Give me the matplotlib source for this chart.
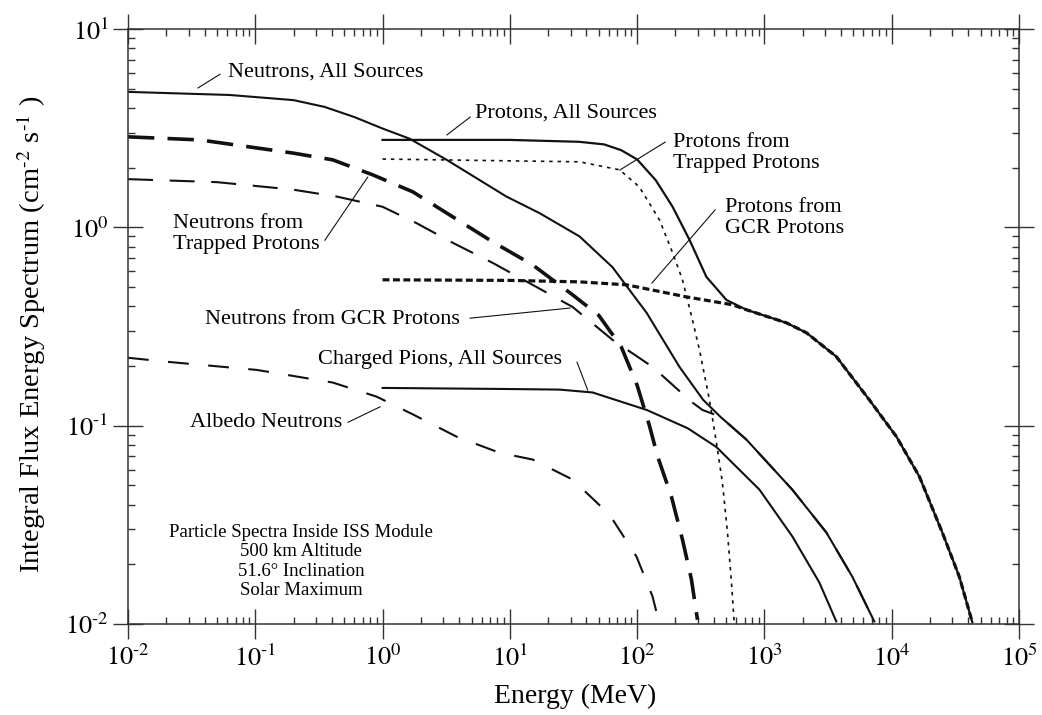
import matplotlib
matplotlib.use('Agg')
from matplotlib import pyplot as plt

plt.rcParams['font.family'] = ['Liberation Serif', 'DejaVu Serif']
plt.rcParams['mathtext.fontset'] = 'stix'
plt.rcParams['lines.scale_dashes'] = False

# 能谱数据 (MeV, cm^-2 s^-1)
neutrons_all_e = [0.01, 0.063, 0.2, 0.35, 0.6, 1.0, 1.63, 3.19, 9.4, 17.1, 35.3, 64, 119, 215, 330, 450, 723, 1660, 3070, 4910, 7300]
neutrons_all_f = [4.82, 4.65, 4.38, 4.05, 3.6, 3.15, 2.8, 2.19, 1.43, 1.18, 0.90, 0.63, 0.37, 0.198, 0.135, 0.111, 0.085, 0.0475, 0.0289, 0.0173, 0.0103]

neutrons_trapped_e = [0.01, 0.0367, 0.197, 0.406, 0.837, 1.73, 3.56, 7.33, 15.1, 31.1, 50, 75, 100, 125, 145, 186, 227, 267, 298]
neutrons_trapped_f = [2.86, 2.76, 2.37, 2.19, 1.84, 1.51, 1.13, 0.845, 0.647, 0.457, 0.36, 0.25, 0.16, 0.1, 0.0699, 0.0439, 0.0267, 0.0168, 0.0105]

neutrons_gcr_e = [0.01, 0.05, 0.197, 0.436, 1.0, 1.85, 3.56, 7.33, 15.1, 31.1, 64, 132, 267, 326, 450, 723, 1660, 3070, 4910, 7300]
neutrons_gcr_f = [1.75, 1.69, 1.55, 1.43, 1.27, 1.05, 0.836, 0.662, 0.513, 0.397, 0.271, 0.198, 0.132, 0.12, 0.111, 0.085, 0.0475, 0.0289, 0.0173, 0.0103]

albedo_e = [0.01, 0.0202, 0.103, 0.406, 0.9, 1.73, 3.82, 8.3, 15.1, 31.1, 60.7, 98.8, 132, 150]
albedo_f = [0.22, 0.21, 0.191, 0.165, 0.14, 0.114, 0.088, 0.073, 0.0675, 0.0535, 0.0356, 0.0219, 0.0138, 0.01]

pions_e = [1.0, 10, 24.6, 44.7, 119, 250, 420, 914, 1660, 2700, 3670]
pions_f = [0.155, 0.153, 0.152, 0.147, 0.12, 0.097, 0.078, 0.0476, 0.0276, 0.0162, 0.0103]

protons_all_e = [1.0, 10, 35, 55, 75, 100, 140, 190, 258, 350, 504, 723, 1490, 2140, 3670, 6670, 10900, 16500, 25000, 34000, 43000]
protons_all_f = [2.76, 2.76, 2.70, 2.62, 2.45, 2.2, 1.73, 1.27, 0.865, 0.563, 0.43, 0.384, 0.33, 0.294, 0.223, 0.135, 0.088, 0.0554, 0.0289, 0.0173, 0.0102]

protons_trapped_e = [1.0, 35.3, 72.8, 104, 150, 190, 227, 272, 309, 370, 420, 468, 513, 551, 580]
protons_trapped_f = [2.21, 2.14, 1.95, 1.60, 1.09, 0.745, 0.545, 0.342, 0.241, 0.135, 0.082, 0.0516, 0.0289, 0.0162, 0.01]

protons_gcr_e = [1.0, 10, 35.3, 82.6, 244, 561, 723, 1490, 2140, 3670, 6670, 10900, 16500, 25000, 34000, 43000]
protons_gcr_f = [0.544, 0.54, 0.531, 0.513, 0.446, 0.407, 0.384, 0.33, 0.294, 0.223, 0.135, 0.088, 0.0554, 0.0289, 0.0173, 0.0102]

x_ticks = [1e-2, 1e-1, 1e0, 1e1, 1e2, 1e3, 1e4, 1e5]
x_tick_labels = ['$10^{\\text{-}2}$', '$10^{\\text{-}1}$', '$10^{0}$', '$10^{1}$', '$10^{2}$', '$10^{3}$', '$10^{4}$', '$10^{5}$']
y_ticks = [1e-2, 1e-1, 1e0, 1e1]
y_tick_labels = ['$10^{\\text{-}2}$', '$10^{\\text{-}1}$', '$10^{0}$', '$10^{1}$']

fig = plt.figure(figsize=(10.42, 7.15), dpi=100)
ax = fig.add_axes([0.1228, 0.1273, 0.8551, 0.8321])
ax.set_xscale('log')
ax.set_yscale('log')
ax.set_xlim(1e-2, 1e5)
ax.set_ylim(1e-2, 1e1)

k = '#111111'
ax.plot(neutrons_all_e, neutrons_all_f, color=k, lw=1.5)
ax.plot(pions_e, pions_f, color=k, lw=1.5)
ax.plot(protons_all_e, protons_all_f, color=k, lw=1.6)
ax.plot(neutrons_trapped_e, neutrons_trapped_f, color=k, lw=2.6, dashes=(19, 9.5))
ax.plot(neutrons_gcr_e, neutrons_gcr_f, color=k, lw=1.5, dashes=(18, 12))
ax.plot(albedo_e, albedo_f, color=k, lw=1.5, dashes=(15, 14))
ax.plot(protons_trapped_e, protons_trapped_f, color=k, lw=1.2, dashes=(2.5, 3.5))
ax.plot(protons_gcr_e, protons_gcr_f, color=k, lw=2.3, dashes=(5, 2.5))

# 坐标轴与刻度
for s in ax.spines.values():
    s.set_linewidth(1.1)
    s.set_color('#333333')
ax.tick_params(which='both', top=True, right=True, color='#333333', width=1.0)
ax.tick_params(which='major', direction='inout', length=21.6, pad=4, labelsize=19)
ax.tick_params(which='minor', direction='in', length=5)
ax.tick_params(axis='y', which='major', pad=3)
ax.set_xticks(x_ticks)
ax.set_xticklabels(x_tick_labels)
ax.set_yticks(y_ticks)
ax.set_yticklabels(y_tick_labels)

ax.set_xlabel('Energy (MeV)', fontsize=20)
ax.xaxis.set_label_coords(0.502, -0.101)
ax.xaxis.label.set_va('top')
ax.set_ylabel('Integral Flux Energy Spectrum (cm$^{\\text{-}2}$ s$^{\\text{-}1}$ )', fontsize=20.5)
ax.yaxis.set_label_coords(-0.0898, 0.486)

# 曲线标注
fs = 16
labels = [
    ('Neutrons, All Sources', 0.112, 0.928, (0.0786, 0.901), (0.1033, 0.924)),
    ('Protons, All Sources', 0.389, 0.859, (0.358, 0.822), (0.384, 0.852)),
    ('Protons from\nTrapped Protons', 0.612, 0.791, (0.552, 0.763), (0.603, 0.810)),
    ('Protons from\nGCR Protons', 0.670, 0.683, (0.588, 0.573), (0.659, 0.696)),
    ('Neutrons from\nTrapped Protons', 0.0505, 0.655, (0.221, 0.645), (0.269, 0.751)),
    ('Neutrons from GCR Protons', 0.0864, 0.511, (0.384, 0.514), (0.496, 0.531)),
    ('Charged Pions, All Sources', 0.213, 0.444, (0.504, 0.440), (0.516, 0.393)),
    ('Albedo Neutrons', 0.0696, 0.339, (0.247, 0.339), (0.283, 0.365)),
]
for txt, tx, ty, p0, p1 in labels:
    ax.text(tx, ty, txt, transform=ax.transAxes, fontsize=fs, ha='left', va='center', linespacing=1.15)
    ax.plot([p0[0], p1[0]], [p0[1], p1[1]], transform=ax.transAxes, color=k, lw=0.8)

ax.text(0.194, 0.105, 'Particle Spectra Inside ISS Module\n500 km Altitude\n51.6\u00b0 Inclination\nSolar Maximum',
        transform=ax.transAxes, fontsize=13.5, ha='center', va='center', multialignment='center', linespacing=1.18)

plt.savefig('out.png', dpi=100)
